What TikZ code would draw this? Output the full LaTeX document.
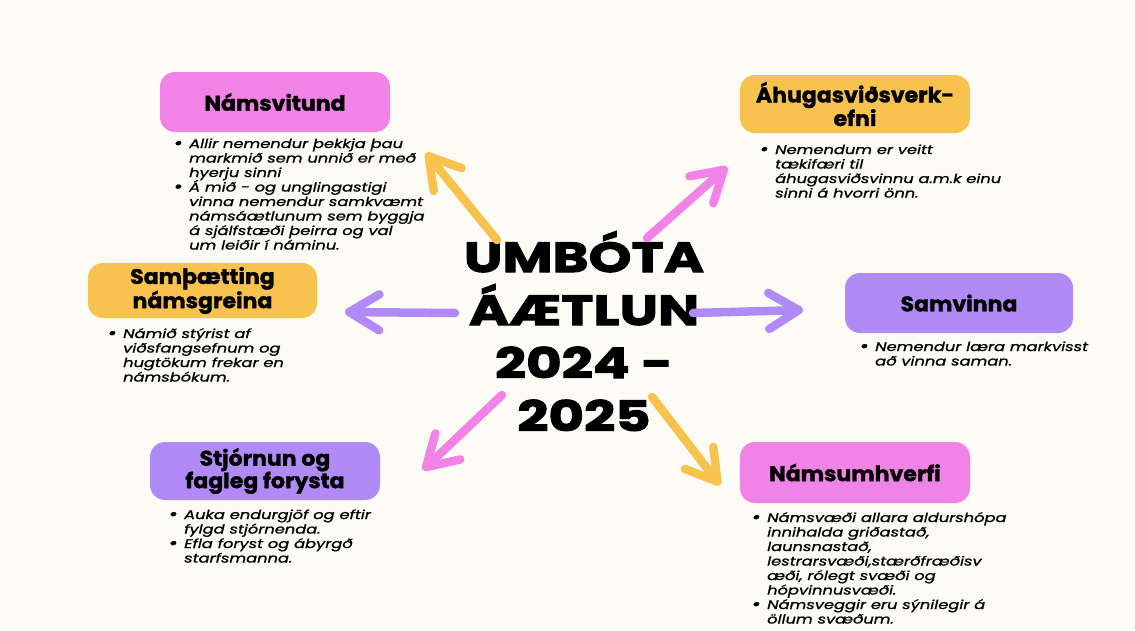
\documentclass[tikz,border=0pt]{standalone}
\usepackage{fontspec}
\setmainfont{Poppins}
\newfontfamily\titlefont{Poppins}[FakeStretch=1.3, BoldFeatures={FakeBold=2.5}]
\newfontfamily\headfont{Poppins}[FakeStretch=1.05, BoldFeatures={FakeBold=1.5}]
\newfontfamily\bodyfont{Poppins}[FakeStretch=1.3, ItalicFeatures={FakeBold=1.2}]
\usetikzlibrary{arrows.meta}
\definecolor{bg}{HTML}{FCFBF5}
\definecolor{pinkc}{HTML}{F283E6}
\definecolor{orangec}{HTML}{F8C24F}
\definecolor{purplec}{HTML}{B08AF6}
\newcommand\tightlines{\lineskiplimit-100pt\relax}
\newcommand\bdot{\raisebox{-0.8pt}{\fontsize{17}{17}\selectfont\textbullet}}
\newcommand\bi[1]{\hbox{\makebox[12pt][l]{\hspace*{-3.5pt}\bdot}#1}}
\newcommand\bc[1]{\hbox{\hspace*{12pt}#1}}
\newcommand\cl[1]{\hbox to 300pt{\hfil#1\hfil}}
\tikzset{
  box/.style={rounded corners=15pt, minimum width=230pt, inner sep=0pt, align=center,
    font=\headfont\bfseries\fontsize{21}{22.5}\selectfont},
  body/.style={anchor=base west, inner sep=0pt,
    font=\bodyfont\itshape\fontsize{12.5}{14.5}\selectfont\tightlines},
  ray/.style={line width=8.5pt, line cap=round, -{Straight Barb[length=30pt,width=36pt,round]}}
}
\begin{document}
\begin{tikzpicture}[x=1pt,y=-1pt]
\fill[bg] (0,0) rectangle (1135,630);
\useasboundingbox (0,0) rectangle (1135,630);

% boxes
\node[box, fill=pinkc, minimum height=60pt] (b1) at (275,102) {Námsvitund};
\node[box, fill=orangec, minimum height=58pt] (b2) at (855,104) {Áhugasviðsverk-\\efni};
\node[box, fill=orangec, minimum height=55pt, minimum width=229pt] (b3) at (202.5,290.5) {Samþætting\\námsgreina};
\node[box, fill=purplec, minimum height=60pt, minimum width=228pt] (b4) at (959,303) {Samvinna};
\node[box, fill=purplec, minimum height=58pt] (b5) at (265,471) {Stjórnun og\\fagleg forysta};
\node[box, fill=pinkc, minimum height=61pt] (b6) at (855,472.5) {Námsumhverfi};

% body texts
\node[body] (t1) at (177,148) {\vtop{%
  \bi{Allir nemendur þekkja þau}\bc{markmið sem unnið er með}\bc{hyerju sinni}%
  \bi{Á mið - og unglingastigi}\bc{vinna nemendur samkvæmt}\bc{námsáætlunum sem byggja}%
  \bc{á sjálfstæði þeirra og val}\bc{um leiðir í náminu.}}};
\node[body] (t2) at (763,154) {\vtop{%
  \bi{Nemendum er veitt}\bc{tækifæri til}\bc{áhugasviðsvinnu a.m.k einu}\bc{sinni á hvorri önn.}}};
\node[body] (t3) at (111,338) {\vtop{%
  \bi{Námið stýrist af}\bc{viðsfangsefnum og}\bc{hugtökum frekar en}\bc{námsbókum.}}};
\node[body] (t4) at (863,351) {\vtop{%
  \bi{Nemendur læra markvisst}\bc{að vinna saman.}}};
\node[body] (t5) at (172,519) {\vtop{%
  \bi{Auka endurgjöf og eftir}\bc{fylgd stjórnenda.}%
  \bi{Efla foryst og ábyrgð}\bc{starfsmanna.}}};
\node[body] (t6) at (755,522) {\vtop{%
  \bi{Námsvæði allara aldurshópa}\bc{innihalda griðastað,}\bc{launsnastað,}%
  \bc{lestrarsvæði,stærðfræðisv}\bc{æði, rólegt svæði og}\bc{hópvinnusvæði.}%
  \bi{Námsveggir eru sýnilegir á}\bc{öllum svæðum.}}};

% centre title
\node[anchor=base, inner sep=0pt,
  font=\titlefont\bfseries\fontsize{42}{53}\selectfont\tightlines]
  (title) at (584,272) {\vtop{\cl{UMBÓTA}\cl{ÁÆTLUN}\cl{2024 -}\cl{2025}}};

% arrows
\coordinate (s1) at (497,240); \coordinate (e1) at (426,153);
\coordinate (s2) at (647,238); \coordinate (e2) at (727,167);
\coordinate (s3) at (455,313); \coordinate (e3) at (345,312);
\coordinate (s4) at (693,313); \coordinate (e4) at (803,310);
\coordinate (s5) at (502,395); \coordinate (e5) at (423,470);
\coordinate (s6) at (652,397); \coordinate (e6) at (720,485);
\draw[ray, orangec] (s1) -- (e1);
\draw[ray, pinkc] (s2) -- (e2);
\draw[ray, purplec] (s3) -- (e3);
\draw[ray, purplec] (s4) -- (e4);
\draw[ray, pinkc] (s5) -- (e5);
\draw[ray, orangec] (s6) -- (e6);
\end{tikzpicture}
\end{document}
